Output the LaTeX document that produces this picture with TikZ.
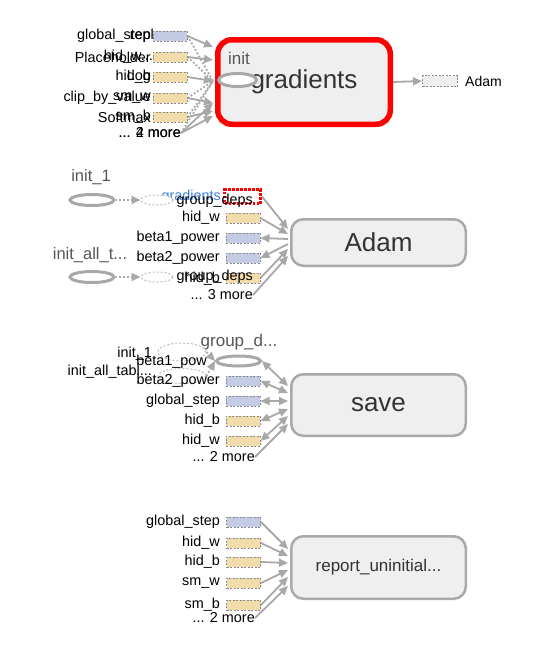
\documentclass[tikz,border=0pt]{standalone}
\usepackage{fontspec}
\setmainfont{Liberation Sans}
\usetikzlibrary{arrows.meta,shapes.geometric}
\pgfdeclarelayer{edges}
\pgfsetlayers{edges,main}
\definecolor{edgegrey}{HTML}{A8A8A8}
\definecolor{boxfill}{HTML}{EFEFEF}
\definecolor{boxline}{HTML}{A9A9A9}
\definecolor{varblue}{HTML}{C3CBE5}
\definecolor{vartan}{HTML}{F2DCAC}
\definecolor{varline}{HTML}{8A8A8A}
\definecolor{ghostline}{HTML}{BDBDBD}
\definecolor{titlegrey}{HTML}{555555}
\definecolor{boxtext}{HTML}{333333}
\definecolor{linkblue}{HTML}{3D7FE0}
\definecolor{hotred}{HTML}{FF0000}
\begin{document}
\begin{tikzpicture}[x=1pt,y=-1pt,
  lbl/.style={font=\fontsize{14.4}{16}\selectfont,inner sep=0pt,anchor=east,text=black},
  ttl/.style={font=\fontsize{16.5}{19}\selectfont,inner sep=0pt,text=titlegrey},
  opbox/.style={draw=boxline,line width=2.5pt,fill=boxfill,rounded corners=12pt,inner sep=0pt,minimum width=174.5pt,text=boxtext,font=\fontsize{26}{30}\selectfont},
  varb/.style={draw=varline,fill=varblue,line width=1pt,dash pattern=on 2pt off 1.5pt,minimum width=34pt,minimum height=10pt,inner sep=0pt},
  vart/.style={varb,fill=vartan},
  opell/.style={ellipse,draw=edgegrey,line width=3pt,fill=white,inner sep=0pt},
  ghost/.style={ellipse,draw=ghostline,line width=1pt,dash pattern=on 2pt off 2pt,fill=white,inner sep=0pt},
  conn/.style={draw=edgegrey,line width=1.8pt,-{Triangle[length=9pt,width=8pt]}},
  bconn/.style={draw=edgegrey,line width=1.8pt,{Triangle[length=9pt,width=8pt]}-{Triangle[length=9pt,width=8pt]}},
  dconn/.style={draw=edgegrey,line width=1.8pt,dotted,-{Triangle[length=9pt,width=8pt]}},
  dline/.style={draw=edgegrey,line width=1.8pt,dotted},
]
\useasboundingbox (0,0) rectangle (546,646);

% ---------------- section 1 : gradients ----------------
\node[draw=hotred,line width=5.5pt,fill=boxfill,rounded corners=14pt,minimum width=172.5pt,minimum height=84.5pt,inner sep=0pt,text=boxtext,font=\fontsize{26}{30}\selectfont] (grad) at (304,82) {gradients};
\node[ttl,font=\fontsize{17}{19}\selectfont] (initlab) at (239,58) {init};
\node[opell,minimum width=38pt,minimum height=13pt] (initop) at (237.5,80) {};
\node[draw=varline,fill=boxfill,line width=1pt,dash pattern=on 2pt off 1.5pt,minimum width=35pt,minimum height=11pt,inner sep=0pt] (adamref) at (440,81) {};
\node[font=\fontsize{14}{16}\selectfont,anchor=west,inner sep=0pt] (adamreflab) at (465,81) {Adam};

\node[varb] (a1) at (170,36) {};
\node[vart] (a2) at (170,57) {};
\node[vart] (a3) at (170,77) {};
\node[vart] (a4) at (170,98) {};
\node[vart] (a5) at (170,117) {};
\node[lbl] (a1l) at (151,36) {global\_step};
\node[lbl] (a1m) at (154,36) {repl};
\node[lbl] (a2l) at (151,57) {Placeholder};
\node[lbl] (a2m) at (153,57) {hid\_w...};
\node[lbl] (a3l) at (151,77) {hid\_b};
\node[lbl] (a3m) at (151,77) {Log};
\node[lbl] (a4l) at (151,98) {clip\_by\_value};
\node[lbl] (a4m) at (151,98) {sm\_w};
\node[lbl] (a5l) at (151,117) {Softmax};
\node[lbl] (a5m) at (151,117) {sm\_b};
\node[lbl] (a6l) at (181,133) {... 2 more};
\node[lbl] (a6m) at (181,133) {... 4 more};

\coordinate (gA) at (213,47);
\coordinate (gB) at (213,60);
\coordinate (gC) at (213,81);
\coordinate (gD) at (213,103);
\coordinate (gE) at (213,111);
\coordinate (gF) at (213,116);

% ---------------- section 2 : Adam ----------------
\node[opbox,minimum height=46.5pt] (adam) at (378.5,242.5) {Adam};
\node[ttl] (init1t) at (91,177) {init\_1};
\node[opell,minimum width=44pt,minimum height=11pt] (init1) at (92,200) {};
\node[ttl] (initat) at (90,255) {init\_all\_t...};
\node[opell,minimum width=44pt,minimum height=11pt] (initall) at (92,277) {};
\node[lbl,text=linkblue] (gradlink) at (221,197) {gradients};
\node[ghost,minimum width=32pt,minimum height=10pt] (gh1) at (157,200) {};
\node[ghost,minimum width=32pt,minimum height=10pt] (gh2) at (157,277) {};
\node[draw=hotred,line width=3pt,dash pattern=on 2.5pt off 1.5pt,fill=white,minimum width=36pt,minimum height=14pt,inner sep=0pt] (gdr) at (242.5,196.5) {};
\node[lbl] (gdl) at (253,201) {group\_deps};
\node[vart] (b2) at (243,218) {};
\node[varb] (b3) at (243,238) {};
\node[varb] (b4) at (243,258) {};
\node[vart] (b5) at (243,278) {};
\node[lbl] (b2l) at (220,218) {hid\_w};
\node[lbl] (b3l) at (220,238) {beta1\_power};
\node[lbl] (b4l) at (220,258) {beta2\_power};
\node[lbl] (b5l) at (220,279) {hid\_b};
\node[lbl] (b5m) at (253,277) {group\_deps};
\node[lbl] (b6l) at (253,295) {... 3 more};

\coordinate (c1) at (288,229);
\coordinate (c2) at (288,234);
\coordinate (c3) at (288,239);
\coordinate (c4) at (288,244);
\coordinate (c5) at (288,249);
\coordinate (c6) at (288,256);

% ---------------- section 3 : save ----------------
\node[opbox,minimum height=61.5pt] (save) at (378.5,405) {save};
\node[ttl,font=\fontsize{17}{19}\selectfont] (gdt) at (239,342) {group\_d...};
\node[ghost,minimum width=48pt,minimum height=18pt] (gh3) at (182,352) {};
\node[ghost,minimum width=48pt,minimum height=15pt] (gh4) at (182,376) {};
\node[opell,minimum width=44pt,minimum height=10pt] (gdop) at (238.5,361) {};
\node[lbl] (i1l) at (152,354) {init\_1};
\node[lbl] (ial) at (152,372) {init\_all\_tabl...};
\node[lbl] (s1l) at (207,362) {beta1\_pow};
\node[varb] (s2) at (243,381) {};
\node[varb] (s3) at (243,401) {};
\node[vart] (s4) at (243,421) {};
\node[vart] (s5) at (243,441) {};
\node[lbl] (s2l) at (220,381) {beta2\_power};
\node[lbl] (s3l) at (220,401) {global\_step};
\node[lbl] (s4l) at (220,421) {hid\_b};
\node[lbl] (s5l) at (220,441) {hid\_w};
\node[lbl] (s6l) at (255,457) {... 2 more};

\coordinate (d1) at (288,386);
\coordinate (d2) at (288,393);
\coordinate (d3) at (288,401);
\coordinate (d4) at (288,409);
\coordinate (d5) at (288,416);
\coordinate (d6) at (288,424);

% ---------------- section 4 : report ----------------
\node[opbox,minimum height=62.5pt,font=\fontsize{17}{20}\selectfont] (report) at (378.5,567.5) {report\_uninitial...};
\node[varb] (r1) at (243.5,522) {};
\node[vart] (r2) at (243.5,543) {};
\node[vart] (r3) at (243.5,562) {};
\node[vart] (r4) at (243.5,583) {};
\node[vart] (r5) at (243.5,605) {};
\node[lbl] (r1l) at (220,522) {global\_step};
\node[lbl] (r2l) at (220,543) {hid\_w};
\node[lbl] (r3l) at (220,562) {hid\_b};
\node[lbl] (r4l) at (220,583) {sm\_w};
\node[lbl] (r5l) at (220,605) {sm\_b};
\node[lbl] (r6l) at (255,618) {... 2 more};

\coordinate (e1) at (288,549);
\coordinate (e2) at (288,556);
\coordinate (e3) at (288,563);
\coordinate (e4) at (288,570);
\coordinate (e5) at (288,577);
\coordinate (e6) at (288,586);

% ---------------- edges ----------------
\begin{pgfonlayer}{edges}
  \draw[conn] (a1.east) -- (gA);
  \draw[conn] (a2.east) -- (gB);
  \draw[conn] (a3.east) -- (gC);
  \draw[conn] (a4.east) -- (gD);
  \draw[conn] (a5.east) -- (gE);
  \draw[conn] (a6l.east) -- (gD);
  \draw[conn] (a6l.east) -- (gF);
  \draw[dline] (a1.east) -- (gC);
  \draw[dline] (a2.east) -- (gC);
  \draw[dline] (a4.east) -- (gC);
  \draw[dline] (a5.east) -- (gC);
  \draw[dline] (a6l.east) -- (gC);
  \draw[conn] (grad.east) -- (adamref.west);

  \draw[dconn] (init1.east) -- (gh1.west);
  \draw[dconn] (initall.east) -- (gh2.west);
  \draw[conn] (gdr.east) -- (c1);
  \draw[conn] (b2.east) -- (c2);
  \draw[conn] (c3) -- (b3.east);
  \draw[conn] (c4) -- (b4.east);
  \draw[conn] (b5.east) -- (c5);
  \draw[conn] (b6l.east) -- (c6);

  \draw[dconn] (gh3.east) -- (gdop.west);
  \draw[dconn] (gh4.east) -- (gdop.west);
  \draw[bconn] (gdop.east) -- (d1);
  \draw[bconn] (s2.east) -- (d2);
  \draw[bconn] (s3.east) -- (d3);
  \draw[bconn] (s4.east) -- (d4);
  \draw[bconn] (s5.east) -- (d5);
  \draw[conn] (s6l.east) -- (d6);

  \draw[conn] (r1.east) -- (e1);
  \draw[conn] (r2.east) -- (e2);
  \draw[conn] (r3.east) -- (e3);
  \draw[conn] (r4.east) -- (e4);
  \draw[conn] (r5.east) -- (e5);
  \draw[conn] (r6l.east) -- (e6);
\end{pgfonlayer}
\end{tikzpicture}
\end{document}
